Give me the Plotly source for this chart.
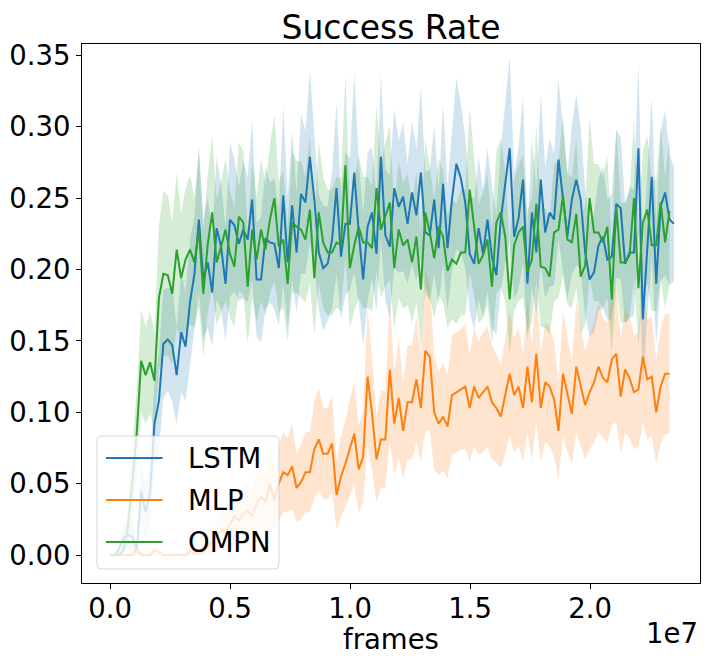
import plotly.graph_objects as go

# logged frame counts (x axis)
frames = [
    0, 185000, 370000, 555000, 740000, 925000, 1110000, 1295000, 1480000, 1665000,
    1850000, 2035000, 2220000, 2405000, 2590000, 2775000, 2960000, 3145000, 3330000, 3515000,
    3700000, 3885000, 4070000, 4255000, 4440000, 4625000, 4810000, 4995000, 5180000, 5365000,
    5550000, 5735000, 5920000, 6105000, 6290000, 6475000, 6660000, 6845000, 7030000, 7215000,
    7400000, 7585000, 7770000, 7955000, 8140000, 8325000, 8510000, 8695000, 8880000, 9065000,
    9250000, 9435000, 9620000, 9805000, 9990000, 10175000, 10360000, 10545000, 10730000, 10915000,
    11100000, 11285000, 11470000, 11655000, 11840000, 12025000, 12210000, 12395000, 12580000, 12765000,
    12950000, 13135000, 13320000, 13505000, 13690000, 13875000, 14060000, 14245000, 14430000, 14615000,
    14800000, 14985000, 15170000, 15355000, 15540000, 15725000, 15910000, 16095000, 16280000, 16465000,
    16650000, 16835000, 17020000, 17205000, 17390000, 17575000, 17760000, 17945000, 18130000, 18315000,
    18500000, 18685000, 18870000, 19055000, 19240000, 19425000, 19610000, 19795000, 19980000, 20165000,
    20350000, 20535000, 20720000, 20905000, 21090000, 21275000, 21460000, 21645000, 21830000, 22015000,
    22200000, 22385000, 22570000, 22755000, 22940000, 23125000, 23310000, 23495000,
]

# mean success rate per model
lstm = [
    0.000, 0.000, 0.004, 0.012, 0.014, 0.013, 0.003, 0.045, 0.030, 0.043,
    0.092, 0.108, 0.148, 0.151, 0.147, 0.126, 0.156, 0.146, 0.177, 0.197,
    0.235, 0.193, 0.205, 0.184, 0.229, 0.216, 0.190, 0.235, 0.231, 0.218,
    0.228, 0.221, 0.249, 0.193, 0.193, 0.222, 0.219, 0.218, 0.201, 0.252,
    0.205, 0.245, 0.212, 0.253, 0.247, 0.279, 0.249, 0.212, 0.201, 0.204,
    0.221, 0.257, 0.209, 0.232, 0.232, 0.268, 0.226, 0.193, 0.230, 0.240,
    0.211, 0.279, 0.224, 0.216, 0.257, 0.244, 0.251, 0.232, 0.254, 0.238,
    0.268, 0.226, 0.224, 0.249, 0.215, 0.260, 0.215, 0.249, 0.274, 0.264,
    0.247, 0.211, 0.204, 0.229, 0.211, 0.235, 0.209, 0.196, 0.235, 0.261,
    0.285, 0.223, 0.236, 0.263, 0.190, 0.240, 0.212, 0.263, 0.226, 0.240,
    0.235, 0.277, 0.249, 0.223, 0.249, 0.263, 0.249, 0.212, 0.193, 0.198,
    0.217, 0.223, 0.207, 0.209, 0.246, 0.243, 0.204, 0.212, 0.212, 0.285,
    0.165, 0.216, 0.265, 0.190, 0.244, 0.254, 0.235, 0.232,
]
mlp = [
    0.000, 0.000, 0.000, 0.000, 0.000, 0.000, 0.004, 0.000, 0.000, 0.000,
    0.004, 0.002, 0.000, 0.000, 0.000, 0.000, 0.000, 0.000, 0.003, 0.001,
    0.001, 0.002, 0.006, 0.010, 0.012, 0.018, 0.016, 0.022, 0.027, 0.024,
    0.029, 0.031, 0.027, 0.036, 0.041, 0.037, 0.050, 0.038, 0.050, 0.058,
    0.056, 0.062, 0.047, 0.051, 0.058, 0.058, 0.074, 0.081, 0.071, 0.071,
    0.078, 0.042, 0.055, 0.064, 0.075, 0.085, 0.060, 0.069, 0.125, 0.099,
    0.067, 0.081, 0.081, 0.130, 0.092, 0.110, 0.087, 0.107, 0.107, 0.123,
    0.103, 0.143, 0.139, 0.100, 0.092, 0.097, 0.090, 0.112, 0.114, 0.116,
    0.118, 0.103, 0.118, 0.110, 0.114, 0.118, 0.107, 0.103, 0.097, 0.111,
    0.127, 0.112, 0.118, 0.103, 0.132, 0.107, 0.141, 0.103, 0.121, 0.118,
    0.109, 0.087, 0.127, 0.113, 0.099, 0.132, 0.118, 0.105, 0.114, 0.121,
    0.132, 0.124, 0.121, 0.137, 0.141, 0.111, 0.130, 0.124, 0.114, 0.116,
    0.139, 0.123, 0.125, 0.100, 0.118, 0.127, 0.127,
]
ompn = [
    0.000, 0.000, 0.000, 0.003, 0.020, 0.050, 0.085, 0.136, 0.126, 0.135,
    0.122, 0.180, 0.197, 0.196, 0.183, 0.214, 0.194, 0.207, 0.214, 0.205,
    0.228, 0.183, 0.218, 0.240, 0.205, 0.216, 0.228, 0.211, 0.202, 0.237,
    0.233, 0.188, 0.228, 0.207, 0.228, 0.214, 0.235, 0.250, 0.216, 0.221,
    0.190, 0.233, 0.230, 0.228, 0.221, 0.242, 0.194, 0.240, 0.219, 0.212,
    0.212, 0.219, 0.217, 0.273, 0.201, 0.217, 0.230, 0.219, 0.219, 0.215,
    0.257, 0.228, 0.238, 0.247, 0.201, 0.228, 0.217, 0.221, 0.205, 0.223,
    0.186, 0.240, 0.226, 0.208, 0.230, 0.223, 0.199, 0.207, 0.204, 0.212,
    0.212, 0.256, 0.230, 0.204, 0.210, 0.221, 0.188, 0.233, 0.240, 0.223,
    0.179, 0.217, 0.226, 0.230, 0.198, 0.207, 0.246, 0.202, 0.201, 0.195,
    0.226, 0.228, 0.252, 0.221, 0.219, 0.239, 0.195, 0.203, 0.250, 0.226,
    0.226, 0.219, 0.230, 0.179, 0.244, 0.205, 0.205, 0.210, 0.250, 0.187,
    0.233, 0.242, 0.217, 0.217, 0.247, 0.219, 0.241,
]

# spread across seeds (std)
lstm_std = [
    0.000, 0.000, 0.004, 0.008, 0.010, 0.010, 0.004, 0.022, 0.018, 0.022,
    0.030, 0.034, 0.038, 0.036, 0.040, 0.034, 0.042, 0.038, 0.044, 0.040,
    0.052, 0.042, 0.046, 0.038, 0.050, 0.044, 0.040, 0.054, 0.046, 0.040,
    0.048, 0.044, 0.056, 0.040, 0.044, 0.050, 0.042, 0.046, 0.040, 0.062,
    0.046, 0.052, 0.042, 0.056, 0.050, 0.060, 0.046, 0.040, 0.044, 0.040,
    0.048, 0.060, 0.044, 0.050, 0.046, 0.070, 0.050, 0.046, 0.052, 0.046,
    0.040, 0.058, 0.046, 0.050, 0.056, 0.046, 0.052, 0.042, 0.050, 0.046,
    0.060, 0.042, 0.046, 0.052, 0.040, 0.056, 0.044, 0.050, 0.060, 0.052,
    0.046, 0.040, 0.046, 0.050, 0.044, 0.050, 0.050, 0.042, 0.050, 0.056,
    0.064, 0.044, 0.050, 0.058, 0.040, 0.052, 0.044, 0.060, 0.046, 0.052,
    0.046, 0.056, 0.050, 0.044, 0.052, 0.060, 0.050, 0.044, 0.040, 0.042,
    0.046, 0.050, 0.042, 0.044, 0.052, 0.050, 0.042, 0.046, 0.044, 0.060,
    0.050, 0.048, 0.056, 0.044, 0.052, 0.058, 0.046, 0.040,
]
mlp_std = [
    0.000, 0.000, 0.000, 0.000, 0.000, 0.000, 0.004, 0.000, 0.000, 0.000,
    0.004, 0.002, 0.000, 0.000, 0.000, 0.000, 0.000, 0.000, 0.003, 0.001,
    0.001, 0.002, 0.006, 0.009, 0.010, 0.014, 0.012, 0.016, 0.018, 0.016,
    0.019, 0.020, 0.018, 0.022, 0.024, 0.022, 0.028, 0.022, 0.026, 0.028,
    0.026, 0.030, 0.024, 0.026, 0.028, 0.028, 0.034, 0.036, 0.032, 0.032,
    0.034, 0.024, 0.028, 0.030, 0.034, 0.036, 0.030, 0.032, 0.048, 0.040,
    0.030, 0.034, 0.034, 0.050, 0.036, 0.042, 0.034, 0.040, 0.040, 0.044,
    0.038, 0.056, 0.052, 0.040, 0.036, 0.038, 0.036, 0.042, 0.042, 0.042,
    0.044, 0.038, 0.042, 0.040, 0.042, 0.042, 0.040, 0.038, 0.036, 0.040,
    0.044, 0.040, 0.042, 0.038, 0.046, 0.040, 0.048, 0.038, 0.042, 0.042,
    0.040, 0.034, 0.044, 0.040, 0.036, 0.046, 0.042, 0.038, 0.040, 0.042,
    0.046, 0.042, 0.042, 0.046, 0.048, 0.040, 0.044, 0.042, 0.040, 0.040,
    0.046, 0.042, 0.042, 0.036, 0.040, 0.042, 0.042,
]
ompn_std = [
    0.000, 0.000, 0.000, 0.003, 0.012, 0.024, 0.030, 0.036, 0.034, 0.036,
    0.034, 0.050, 0.058, 0.056, 0.050, 0.054, 0.046, 0.050, 0.052, 0.046,
    0.054, 0.044, 0.048, 0.054, 0.044, 0.046, 0.050, 0.044, 0.042, 0.052,
    0.050, 0.040, 0.048, 0.044, 0.050, 0.046, 0.052, 0.058, 0.046, 0.048,
    0.040, 0.050, 0.046, 0.048, 0.044, 0.052, 0.040, 0.050, 0.046, 0.044,
    0.044, 0.046, 0.046, 0.064, 0.042, 0.046, 0.050, 0.046, 0.046, 0.044,
    0.058, 0.048, 0.050, 0.054, 0.042, 0.048, 0.044, 0.046, 0.042, 0.046,
    0.040, 0.052, 0.046, 0.042, 0.048, 0.046, 0.040, 0.042, 0.042, 0.044,
    0.044, 0.058, 0.048, 0.042, 0.044, 0.046, 0.040, 0.050, 0.052, 0.046,
    0.038, 0.046, 0.048, 0.050, 0.042, 0.044, 0.054, 0.042, 0.042, 0.040,
    0.048, 0.048, 0.056, 0.046, 0.046, 0.052, 0.040, 0.042, 0.056, 0.048,
    0.048, 0.046, 0.050, 0.038, 0.054, 0.042, 0.042, 0.044, 0.056, 0.040,
    0.050, 0.052, 0.046, 0.046, 0.054, 0.046, 0.052,
]

xtick_vals = [0, 5000000, 10000000, 15000000, 20000000]
xtick_text = ["0.0", "0.5", "1.0", "1.5", "2.0"]
ytick_vals = [0.0, 0.05, 0.10, 0.15, 0.20, 0.25, 0.30, 0.35]

series = [
    ("LSTM", lstm, lstm_std, "#1f77b4", "rgba(31,119,180,0.2)"),
    ("MLP", mlp, mlp_std, "#ff7f0e", "rgba(255,127,14,0.2)"),
    ("OMPN", ompn, ompn_std, "#2ca02c", "rgba(44,160,44,0.2)"),
]

# page body has an 8px margin, so the figure is a bit smaller and shifted
OFF = 8
W, H = 711 - 2 * OFF, 664 - 2 * OFF
AX_L, AX_R, AX_T, AX_B = 82, 700, 44, 583   # axes box in window pixels
L, T = AX_L - OFF, AX_T - OFF
R, B = W - (AX_R - OFF), H - (AX_B - OFF)
PW, PH = AX_R - AX_L, AX_B - AX_T


def px(x):
    return (x - AX_L) / PW


def py(y):
    return (AX_B - y) / PH


fig = go.Figure()

# shaded bands first
for name, mean, std, col, fillcol in series:
    x = frames[:len(mean)]
    upper = [m + s for m, s in zip(mean, std)]
    lower = [m - s for m, s in zip(mean, std)]
    fig.add_trace(go.Scatter(
        x=x + x[::-1], y=upper + lower[::-1],
        fill="toself", fillcolor=fillcol, line=dict(width=0),
        mode="lines", hoverinfo="skip", showlegend=False))

for name, mean, std, col, fillcol in series:
    fig.add_trace(go.Scatter(
        x=frames[:len(mean)], y=mean, mode="lines", name=name,
        line=dict(color=col, width=2), showlegend=False))

font = "DejaVu Sans"
fs = 27.5

# matplotlib-like legend box (lower left)
x0, x1, y0, y1 = px(97), px(279), py(569), py(436)
rx, ry = 4 / PW, 4 / PH
box = (f"M {x0 + rx},{y0} L {x1 - rx},{y0} Q {x1},{y0} {x1},{y0 + ry} "
       f"L {x1},{y1 - ry} Q {x1},{y1} {x1 - rx},{y1} L {x0 + rx},{y1} "
       f"Q {x0},{y1} {x0},{y1 - ry} L {x0},{y0 + ry} Q {x0},{y0} {x0 + rx},{y0} Z")
shapes = [dict(type="path", path=box, xref="paper", yref="paper",
               fillcolor="rgba(255,255,255,0.8)",
               line=dict(color="rgba(204,204,204,0.8)", width=1), layer="above")]
annotations = []
for k, (name, mean, std, col, fillcol) in enumerate(series):
    yy = py(458 + 42 * k)
    shapes.append(dict(type="line", xref="paper", yref="paper",
                       x0=px(106), x1=px(162.5), y0=yy, y1=yy,
                       line=dict(color=col, width=2), layer="above"))
    annotations.append(dict(text=name, x=px(186), y=yy, xref="paper", yref="paper",
                            xanchor="left", yanchor="middle", showarrow=False,
                            font=dict(family=font, size=fs, color="black")))

annotations += [
    dict(text="frames", x=0.5, y=py(639), xref="paper", yref="paper",
         xanchor="center", yanchor="middle", showarrow=False,
         font=dict(family=font, size=fs, color="black")),
    dict(text="1e7", x=1.0, y=py(633), xref="paper", yref="paper",
         xanchor="right", yanchor="middle", showarrow=False,
         font=dict(family=font, size=fs, color="black")),
]

axis_style = dict(showline=True, linecolor="black", linewidth=1, mirror=True,
                  showgrid=False, zeroline=False, ticks="outside", ticklen=5,
                  tickwidth=1, tickcolor="black", automargin=False,
                  tickfont=dict(family=font, size=fs, color="black"))

fig.update_layout(
    width=W, height=H,
    margin=dict(l=L, r=R, t=T, b=B),
    paper_bgcolor="white", plot_bgcolor="white",
    showlegend=False,
    title=dict(text="Success Rate", x=0.5, xref="paper", y=1 - (27 - OFF) / H,
               yref="container", yanchor="middle",
               font=dict(family=font, size=33, color="black")),
    xaxis=dict(range=[-1170000, 24580000], tickvals=xtick_vals,
               ticktext=xtick_text, ticklabelstandoff=-4, **axis_style),
    yaxis=dict(range=[-0.0196, 0.358], tickvals=ytick_vals, tickformat=".2f",
               **axis_style),
    shapes=shapes,
    annotations=annotations,
)

fig.write_html("out.html")
